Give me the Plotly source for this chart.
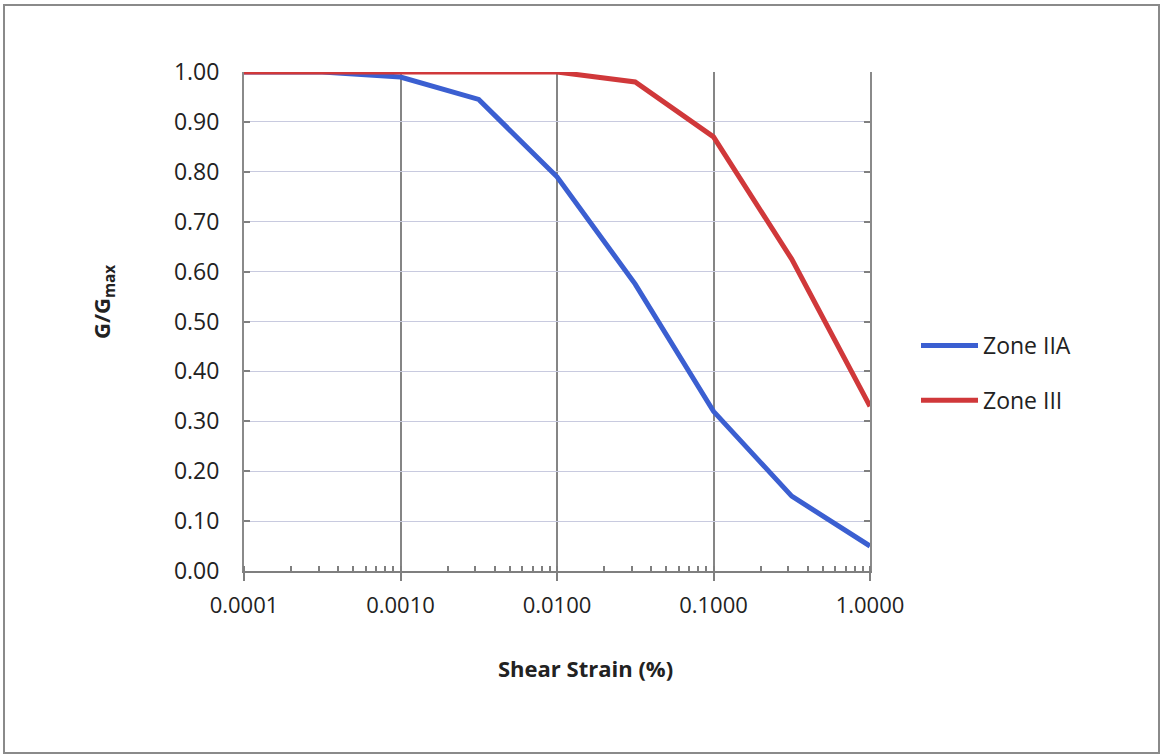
import plotly.graph_objects as go

strain = [0.0001, 0.000316, 0.001, 0.00316, 0.01, 0.0316, 0.1, 0.316, 1.0]
zone_iia = [1.00, 1.00, 0.99, 0.945, 0.79, 0.575, 0.32, 0.15, 0.05]
zone_iii = [1.00, 1.00, 1.00, 1.00, 1.00, 0.98, 0.87, 0.625, 0.33]
x_tickvals = [0.0001, 0.001, 0.01, 0.1, 1.0]
x_ticktext = ["0.0001", "0.0010", "0.0100", "0.1000", "1.0000"]
y_tickvals = [0.0, 0.1, 0.2, 0.3, 0.4, 0.5, 0.6, 0.7, 0.8, 0.9, 1.0]
y_ticktext = ["0.00", "0.10", "0.20", "0.30", "0.40", "0.50", "0.60", "0.70", "0.80", "0.90", "1.00"]

FONT = "Open Sans, Liberation Sans, sans-serif"
BLUE = "#3b5fd1"
RED = "#d0383a"

fig = go.Figure()
fig.add_trace(go.Scatter(x=strain, y=zone_iia, mode="lines", name="Zone IIA",
                         line=dict(color=BLUE, width=5), cliponaxis=False,
                         legendgroup="a"))
fig.add_trace(go.Scatter(x=strain, y=zone_iii, mode="lines", name="Zone III",
                         line=dict(color=RED, width=5), cliponaxis=False,
                         legendgroup="b"))

W, H = 1161, 756
L, R, T, B = 244, 291, 72, 185
pw, ph = W - L - R, H - T - B


def px(xp):
    return (xp - L) / pw


def py(yp):
    return (H - B - yp) / ph


fig.update_layout(
    width=W, height=H,
    margin=dict(l=L, r=R, t=T, b=B),
    paper_bgcolor="white", plot_bgcolor="white",
    font=dict(family=FONT, size=22, color="#222222"),
    showlegend=True,
    legend=dict(x=px(916), y=py(324), xanchor="left", yanchor="top",
                font=dict(size=23, color="#222222"), tracegroupgap=22,
                itemwidth=57, bgcolor="rgba(0,0,0,0)"),
    xaxis=dict(type="log", range=[-4, 0], tickvals=x_tickvals, ticktext=x_ticktext,
               showgrid=True, gridcolor="#858585", gridwidth=1.5,
               showline=True, linecolor="#7f7f7f", linewidth=2,
               ticks="outside", ticklen=8, tickcolor="#7f7f7f", tickwidth=2,
               ticklabelstandoff=6,
               tickfont=dict(size=22, color="#222222"),
               minor=dict(ticks="inside", ticklen=5, tickcolor="#7f7f7f",
                          tickwidth=1.5, showgrid=False, dtick="D1"),
               zeroline=False),
    yaxis=dict(range=[0, 1], tickvals=y_tickvals, ticktext=y_ticktext,
               showgrid=True, gridcolor="#c8cadf", gridwidth=1.2,
               showline=True, linecolor="#8a8a8a", linewidth=2, mirror="ticks",
               ticks="inside", ticklen=6, tickcolor="#7f7f7f", tickwidth=2,
               ticklabelstandoff=18,
               tickfont=dict(size=23, color="#222222"),
               zeroline=False),
    annotations=[
        dict(text="<b>Shear Strain (%)</b>", x=px(585), y=py(668), xref="paper", yref="paper",
             showarrow=False, font=dict(size=22, color="#222222"), xanchor="center", yanchor="middle"),
        dict(text="<b>G/G<sub>max</sub></b>", x=px(103), y=py(302), xref="paper", yref="paper",
             showarrow=False, textangle=-90, font=dict(size=22, color="#222222"),
             xanchor="center", yanchor="middle"),
    ],
    shapes=[
        dict(type="rect", xref="paper", yref="paper", x0=px(4), x1=px(1159), y0=py(753), y1=py(5),
             line=dict(color="#8a8a8a", width=2), layer="below"),
    ],
)

fig.write_html("out.html")
